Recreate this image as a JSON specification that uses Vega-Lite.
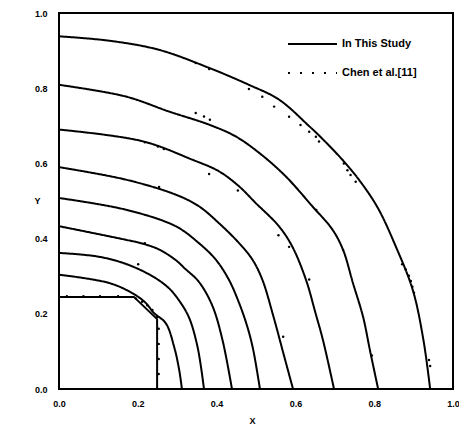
{
  "$schema": "https://vega.github.io/schema/vega-lite/v6.json",
  "width": 394,
  "height": 376,
  "autosize": {"type": "none"},
  "padding": {"left": 59, "top": 13, "right": 6, "bottom": 43},
  "config": {
    "font": "Liberation Sans",
    "view": {"stroke": "black", "strokeWidth": 2}
  },
  "datasets": {
    "study": [
      {"c": "A", "o": 1, "x": 0, "y": 0.938, "s": "In This Study"},
      {"c": "A", "o": 2, "x": 0.13, "y": 0.926, "s": "In This Study"},
      {"c": "A", "o": 3, "x": 0.254, "y": 0.902, "s": "In This Study"},
      {"c": "A", "o": 4, "x": 0.381, "y": 0.854, "s": "In This Study"},
      {"c": "A", "o": 5, "x": 0.482, "y": 0.809, "s": "In This Study"},
      {"c": "A", "o": 6, "x": 0.558, "y": 0.77, "s": "In This Study"},
      {"c": "A", "o": 7, "x": 0.635, "y": 0.699, "s": "In This Study"},
      {"c": "A", "o": 8, "x": 0.667, "y": 0.667, "s": "In This Study"},
      {"c": "A", "o": 9, "x": 0.719, "y": 0.61, "s": "In This Study"},
      {"c": "A", "o": 10, "x": 0.761, "y": 0.557, "s": "In This Study"},
      {"c": "A", "o": 11, "x": 0.809, "y": 0.482, "s": "In This Study"},
      {"c": "A", "o": 12, "x": 0.854, "y": 0.381, "s": "In This Study"},
      {"c": "A", "o": 13, "x": 0.898, "y": 0.263, "s": "In This Study"},
      {"c": "A", "o": 14, "x": 0.925, "y": 0.13, "s": "In This Study"},
      {"c": "A", "o": 15, "x": 0.942, "y": 0, "s": "In This Study"},
      {"c": "B", "o": 1, "x": 0, "y": 0.809, "s": "In This Study"},
      {"c": "B", "o": 2, "x": 0.169, "y": 0.778, "s": "In This Study"},
      {"c": "B", "o": 3, "x": 0.279, "y": 0.738, "s": "In This Study"},
      {"c": "B", "o": 4, "x": 0.381, "y": 0.703, "s": "In This Study"},
      {"c": "B", "o": 5, "x": 0.448, "y": 0.672, "s": "In This Study"},
      {"c": "B", "o": 6, "x": 0.508, "y": 0.628, "s": "In This Study"},
      {"c": "B", "o": 7, "x": 0.575, "y": 0.566, "s": "In This Study"},
      {"c": "B", "o": 8, "x": 0.643, "y": 0.486, "s": "In This Study"},
      {"c": "B", "o": 9, "x": 0.694, "y": 0.424, "s": "In This Study"},
      {"c": "B", "o": 10, "x": 0.721, "y": 0.37, "s": "In This Study"},
      {"c": "B", "o": 11, "x": 0.746, "y": 0.282, "s": "In This Study"},
      {"c": "B", "o": 12, "x": 0.772, "y": 0.191, "s": "In This Study"},
      {"c": "B", "o": 13, "x": 0.789, "y": 0.104, "s": "In This Study"},
      {"c": "B", "o": 14, "x": 0.81, "y": 0, "s": "In This Study"},
      {"c": "C", "o": 1, "x": 0, "y": 0.69, "s": "In This Study"},
      {"c": "C", "o": 2, "x": 0.212, "y": 0.659, "s": "In This Study"},
      {"c": "C", "o": 3, "x": 0.338, "y": 0.61, "s": "In This Study"},
      {"c": "C", "o": 4, "x": 0.406, "y": 0.579, "s": "In This Study"},
      {"c": "C", "o": 5, "x": 0.457, "y": 0.539, "s": "In This Study"},
      {"c": "C", "o": 6, "x": 0.497, "y": 0.497, "s": "In This Study"},
      {"c": "C", "o": 7, "x": 0.558, "y": 0.433, "s": "In This Study"},
      {"c": "C", "o": 8, "x": 0.592, "y": 0.379, "s": "In This Study"},
      {"c": "C", "o": 9, "x": 0.627, "y": 0.29, "s": "In This Study"},
      {"c": "C", "o": 10, "x": 0.651, "y": 0.202, "s": "In This Study"},
      {"c": "C", "o": 11, "x": 0.67, "y": 0.13, "s": "In This Study"},
      {"c": "C", "o": 12, "x": 0.698, "y": 0, "s": "In This Study"},
      {"c": "D", "o": 1, "x": 0, "y": 0.59, "s": "In This Study"},
      {"c": "D", "o": 2, "x": 0.169, "y": 0.557, "s": "In This Study"},
      {"c": "D", "o": 3, "x": 0.296, "y": 0.517, "s": "In This Study"},
      {"c": "D", "o": 4, "x": 0.355, "y": 0.486, "s": "In This Study"},
      {"c": "D", "o": 5, "x": 0.406, "y": 0.441, "s": "In This Study"},
      {"c": "D", "o": 6, "x": 0.457, "y": 0.388, "s": "In This Study"},
      {"c": "D", "o": 7, "x": 0.491, "y": 0.344, "s": "In This Study"},
      {"c": "D", "o": 8, "x": 0.516, "y": 0.291, "s": "In This Study"},
      {"c": "D", "o": 9, "x": 0.545, "y": 0.19, "s": "In This Study"},
      {"c": "D", "o": 10, "x": 0.572, "y": 0.085, "s": "In This Study"},
      {"c": "D", "o": 11, "x": 0.594, "y": 0, "s": "In This Study"},
      {"c": "E", "o": 1, "x": 0, "y": 0.508, "s": "In This Study"},
      {"c": "E", "o": 2, "x": 0.169, "y": 0.477, "s": "In This Study"},
      {"c": "E", "o": 3, "x": 0.296, "y": 0.433, "s": "In This Study"},
      {"c": "E", "o": 4, "x": 0.355, "y": 0.388, "s": "In This Study"},
      {"c": "E", "o": 5, "x": 0.398, "y": 0.344, "s": "In This Study"},
      {"c": "E", "o": 6, "x": 0.431, "y": 0.291, "s": "In This Study"},
      {"c": "E", "o": 7, "x": 0.457, "y": 0.229, "s": "In This Study"},
      {"c": "E", "o": 8, "x": 0.477, "y": 0.169, "s": "In This Study"},
      {"c": "E", "o": 9, "x": 0.492, "y": 0.109, "s": "In This Study"},
      {"c": "E", "o": 10, "x": 0.51, "y": 0, "s": "In This Study"},
      {"c": "F", "o": 1, "x": 0, "y": 0.433, "s": "In This Study"},
      {"c": "F", "o": 2, "x": 0.169, "y": 0.397, "s": "In This Study"},
      {"c": "F", "o": 3, "x": 0.211, "y": 0.387, "s": "In This Study"},
      {"c": "F", "o": 4, "x": 0.254, "y": 0.371, "s": "In This Study"},
      {"c": "F", "o": 5, "x": 0.296, "y": 0.343, "s": "In This Study"},
      {"c": "F", "o": 6, "x": 0.32, "y": 0.32, "s": "In This Study"},
      {"c": "F", "o": 7, "x": 0.355, "y": 0.285, "s": "In This Study"},
      {"c": "F", "o": 8, "x": 0.389, "y": 0.222, "s": "In This Study"},
      {"c": "F", "o": 9, "x": 0.415, "y": 0.13, "s": "In This Study"},
      {"c": "F", "o": 10, "x": 0.439, "y": 0, "s": "In This Study"},
      {"c": "G", "o": 1, "x": 0, "y": 0.362, "s": "In This Study"},
      {"c": "G", "o": 2, "x": 0.1, "y": 0.352, "s": "In This Study"},
      {"c": "G", "o": 3, "x": 0.169, "y": 0.333, "s": "In This Study"},
      {"c": "G", "o": 4, "x": 0.237, "y": 0.3, "s": "In This Study"},
      {"c": "G", "o": 5, "x": 0.279, "y": 0.268, "s": "In This Study"},
      {"c": "G", "o": 6, "x": 0.305, "y": 0.235, "s": "In This Study"},
      {"c": "G", "o": 7, "x": 0.33, "y": 0.19, "s": "In This Study"},
      {"c": "G", "o": 8, "x": 0.352, "y": 0.11, "s": "In This Study"},
      {"c": "G", "o": 9, "x": 0.368, "y": 0, "s": "In This Study"},
      {"c": "H", "o": 1, "x": 0, "y": 0.304, "s": "In This Study"},
      {"c": "H", "o": 2, "x": 0.127, "y": 0.282, "s": "In This Study"},
      {"c": "H", "o": 3, "x": 0.186, "y": 0.255, "s": "In This Study"},
      {"c": "H", "o": 4, "x": 0.22, "y": 0.229, "s": "In This Study"},
      {"c": "H", "o": 5, "x": 0.241, "y": 0.202, "s": "In This Study"},
      {"c": "H", "o": 6, "x": 0.271, "y": 0.175, "s": "In This Study"},
      {"c": "H", "o": 7, "x": 0.292, "y": 0.113, "s": "In This Study"},
      {"c": "H", "o": 8, "x": 0.305, "y": 0.051, "s": "In This Study"},
      {"c": "H", "o": 9, "x": 0.312, "y": 0, "s": "In This Study"},
      {"c": "S", "o": 1, "x": 0, "y": 0.245, "s": "In This Study"},
      {"c": "S", "o": 2, "x": 0.19, "y": 0.245, "s": "In This Study"},
      {"c": "S", "o": 3, "x": 0.249, "y": 0.186, "s": "In This Study"},
      {"c": "S", "o": 4, "x": 0.249, "y": 0, "s": "In This Study"}
    ],
    "chen": [
      {"x": 0.347, "y": 0.867}, {"x": 0.381, "y": 0.851}, {"x": 0.482, "y": 0.798},
      {"x": 0.516, "y": 0.777}, {"x": 0.546, "y": 0.751}, {"x": 0.584, "y": 0.724},
      {"x": 0.613, "y": 0.702}, {"x": 0.635, "y": 0.684}, {"x": 0.652, "y": 0.671},
      {"x": 0.66, "y": 0.658}, {"x": 0.723, "y": 0.6}, {"x": 0.732, "y": 0.582},
      {"x": 0.74, "y": 0.569}, {"x": 0.753, "y": 0.551}, {"x": 0.871, "y": 0.332},
      {"x": 0.88, "y": 0.318}, {"x": 0.888, "y": 0.301}, {"x": 0.893, "y": 0.287},
      {"x": 0.897, "y": 0.272}, {"x": 0.901, "y": 0.256}, {"x": 0.939, "y": 0.077},
      {"x": 0.942, "y": 0.061},
      {"x": 0.347, "y": 0.734}, {"x": 0.368, "y": 0.725}, {"x": 0.383, "y": 0.716},
      {"x": 0.653, "y": 0.476}, {"x": 0.721, "y": 0.37}, {"x": 0.794, "y": 0.089},
      {"x": 0.218, "y": 0.656}, {"x": 0.251, "y": 0.645}, {"x": 0.266, "y": 0.638},
      {"x": 0.381, "y": 0.572}, {"x": 0.454, "y": 0.528}, {"x": 0.557, "y": 0.409},
      {"x": 0.584, "y": 0.378}, {"x": 0.635, "y": 0.291},
      {"x": 0.254, "y": 0.537}, {"x": 0.569, "y": 0.139},
      {"x": 0.218, "y": 0.388}, {"x": 0.201, "y": 0.332},
      {"x": 0.02, "y": 0.247}, {"x": 0.062, "y": 0.247}, {"x": 0.104, "y": 0.247},
      {"x": 0.15, "y": 0.247}, {"x": 0.195, "y": 0.241}, {"x": 0.211, "y": 0.232},
      {"x": 0.224, "y": 0.223}, {"x": 0.237, "y": 0.21}, {"x": 0.249, "y": 0.192},
      {"x": 0.253, "y": 0.16}, {"x": 0.253, "y": 0.12}, {"x": 0.253, "y": 0.08},
      {"x": 0.253, "y": 0.04}
    ]
  },
  "encoding": {
    "x": {
      "field": "x", "type": "quantitative",
      "scale": {"domain": [0, 1], "nice": false},
      "axis": {
        "values": [0, 0.2, 0.4, 0.6, 0.8, 1], "format": ".1f",
        "grid": false, "ticks": false, "domain": false,
        "labelFontSize": 9, "labelFontWeight": "bold", "labelColor": "black",
        "labelPadding": 10, "labelFlush": false,
        "title": "X", "titleFontSize": 9, "titleFontWeight": "bold", "titleColor": "black",
        "titleX": 193, "titleY": 31, "titleBaseline": "middle", "titleAnchor": "start", "titleAlign": "center"
      }
    },
    "y": {
      "field": "y", "type": "quantitative",
      "scale": {"domain": [0, 1], "nice": false},
      "axis": {
        "values": [0, 0.2, 0.4, 0.6, 0.8, 1], "format": ".1f",
        "grid": false, "ticks": false, "domain": false,
        "labelFontSize": 9, "labelFontWeight": "bold", "labelColor": "black",
        "labelPadding": 12, "labelFlush": false,
        "title": "Y", "titleFontSize": 9, "titleFontWeight": "bold", "titleColor": "black",
        "titleAngle": 0, "titleX": -22, "titleY": 187, "titleBaseline": "middle", "titleAlign": "center", "titleAnchor": "start"
      }
    }
  },
  "layer": [
    {
      "data": {"name": "study"},
      "transform": [{"filter": "datum.c != 'S'"}],
      "mark": {"type": "line", "color": "black", "strokeWidth": 2, "interpolate": "catmull-rom"},
      "encoding": {
        "detail": {"field": "c"},
        "order": {"field": "o", "type": "quantitative"},
        "strokeDash": {
          "field": "s", "type": "nominal",
          "scale": {"domain": ["In This Study", "Chen et al.[11]"], "range": [[1, 0], [2, 10]]},
          "legend": {
            "title": null, "orient": "none", "legendX": 228, "legendY": 24,
            "symbolType": "stroke", "symbolSize": 2400, "symbolStrokeWidth": 2,
            "symbolStrokeColor": "black", "clipHeight": 14, "rowPadding": 15,
            "labelFontSize": 11, "labelFontWeight": "bold", "labelColor": "black", "labelOffset": 4
          }
        }
      }
    },
    {
      "data": {"name": "study"},
      "transform": [{"filter": "datum.c == 'S'"}],
      "mark": {"type": "line", "color": "black", "strokeWidth": 2, "interpolate": "linear"},
      "encoding": {
        "order": {"field": "o", "type": "quantitative"}
      }
    },
    {
      "data": {"name": "chen"},
      "mark": {"type": "point", "filled": true, "color": "black", "size": 6, "opacity": 1},
      "encoding": {}
    }
  ]
}
